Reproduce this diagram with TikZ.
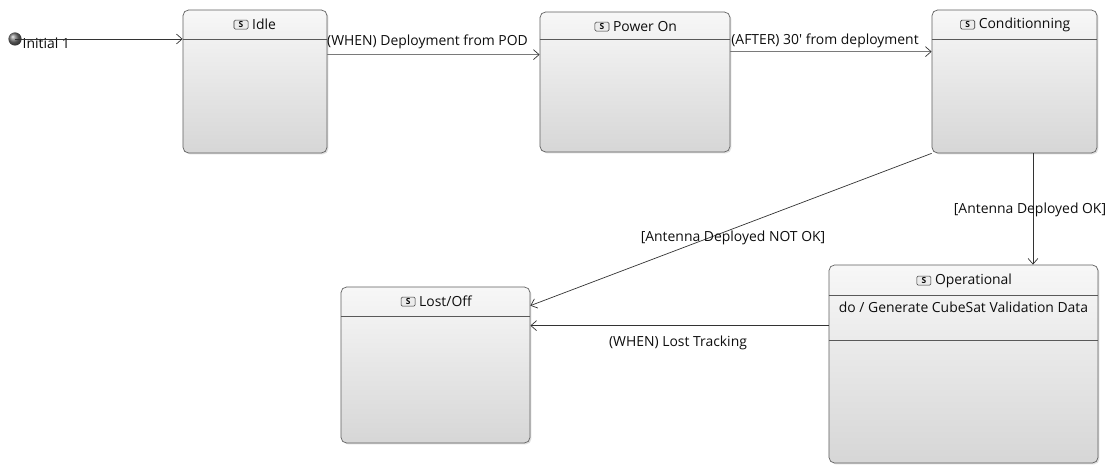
\documentclass[tikz,border=0pt]{standalone}
\usepackage{fontspec}
\setmainfont{Open Sans}
\usepackage{xcolor}
\usetikzlibrary{arrows.meta,positioning,calc,shadows}

\begin{document}
\begin{tikzpicture}[x=0.025cm,y=-0.025cm,
  every node/.style={font=\fontsize{9.9pt}{12pt}\selectfont,text=black!95},
  st/.style={draw=gray!75!black,line width=0.5pt,rounded corners=4pt,inner sep=0pt,
    top color=gray!6,bottom color=gray!32,
    drop shadow={opacity=0.25,shadow xshift=1pt,shadow yshift=-1pt}},
  ttl/.style={inner sep=1pt},
  ic/.style={draw=black!80,fill=gray!15,rounded corners=1pt,inner sep=0.5pt,
    minimum width=10pt,minimum height=6.5pt,font=\fontsize{6pt}{6pt}\selectfont\bfseries},
  sep/.style={draw=gray!70!black,line width=0.5pt},
  tr/.style={draw=black!80,line width=0.5pt,-{Straight Barb[length=4pt,width=7pt]}},
  lb/.style={inner sep=1pt}]
 \useasboundingbox (0,0) rectangle (1112,465);
 % states
 \node[st,minimum width=3.6cm,minimum height=3.575cm]  (idle) at (255,81.5) {};
 \node[st,minimum width=4.75cm,minimum height=3.5cm]   (pwr)  at (635,82) {};
 \node[st,minimum width=4.125cm,minimum height=3.575cm](cond) at (1014.5,81.5) {};
 \node[st,minimum width=4.725cm,minimum height=3.9cm]  (lost) at (435.5,365) {};
 \node[st,minimum width=6.725cm,minimum height=4.95cm] (oper) at (963.5,364) {};
 % header lines
 \draw[sep] ($(idle.north west)+(0,30)$) -- ($(idle.north east)+(0,30)$);
 \draw[sep] ($(pwr.north west)+(0,28)$) -- ($(pwr.north east)+(0,28)$);
 \draw[sep] ($(cond.north west)+(0,30)$) -- ($(cond.north east)+(0,30)$);
 \draw[sep] ($(lost.north west)+(0,30)$) -- ($(lost.north east)+(0,30)$);
 \draw[sep] ($(oper.north west)+(0,31)$) -- ($(oper.north east)+(0,31)$);
 \draw[sep] ($(oper.north west)+(0,76)$) -- ($(oper.north east)+(0,76)$);
 % titles
 \node[ttl] (idle-t) at ($(idle.north)+(9,15)$) {Idle};
 \node[ttl] (pwr-t)  at ($(pwr.north)+(10,15)$) {Power On};
 \node[ttl] (cond-t) at ($(cond.north)+(10,15)$) {Conditionning};
 \node[ttl] (lost-t) at ($(lost.north)+(10,15)$) {Lost/Off};
 \node[ttl] (oper-t) at ($(oper.north)+(10,16)$) {Operational};
 \foreach \s in {idle,pwr,cond,lost,oper}
   \node[ic,left=1.5pt of \s-t] (\s-s) {S};
 \node[ttl] (oper-do) at ($(oper.north)+(0,43)$) {do / Generate CubeSat Validation Data};
 % initial
 \node[circle,inner sep=0pt,minimum size=0.33cm,ball color=gray!90!black] (init) at (15,39) {};
 \node[lb,anchor=west] (init-l) at (21,43) {Initial 1};
 % transitions
 \draw[tr] (init.center) -- (init -| idle.west);
 \draw[tr] ($(idle.north east)+(0,45)$) -- ($(pwr.north west)+(0,43)$);
 \draw[tr] ($(pwr.north east)+(0,40)$) -- ($(cond.north west)+(0,42)$);
 \draw[tr] ($(cond.south)+(18.5,0)$) coordinate (c1) -- (c1 |- oper.north);
 \draw[tr] (cond.south west) -- ($(lost.north east)+(0,19)$);
 \draw[tr] ($(oper.north west)+(0,61)$) coordinate (o1) -- (o1 -| lost.east);
 % labels
 \node[lb] (l1) at (427.5,42) {(WHEN) Deployment from POD};
 \node[lb] (l2) at (825,41) {(AFTER) 30\textquotesingle{} from deployment};
 \node[lb] (l3) at (1030,210) {[Antenna Deployed OK]};
 \node[lb] (l4) at (733,238) {[Antenna Deployed NOT OK]};
 \node[lb] (l5) at (678,343) {(WHEN) Lost Tracking};
\end{tikzpicture}
\end{document}
